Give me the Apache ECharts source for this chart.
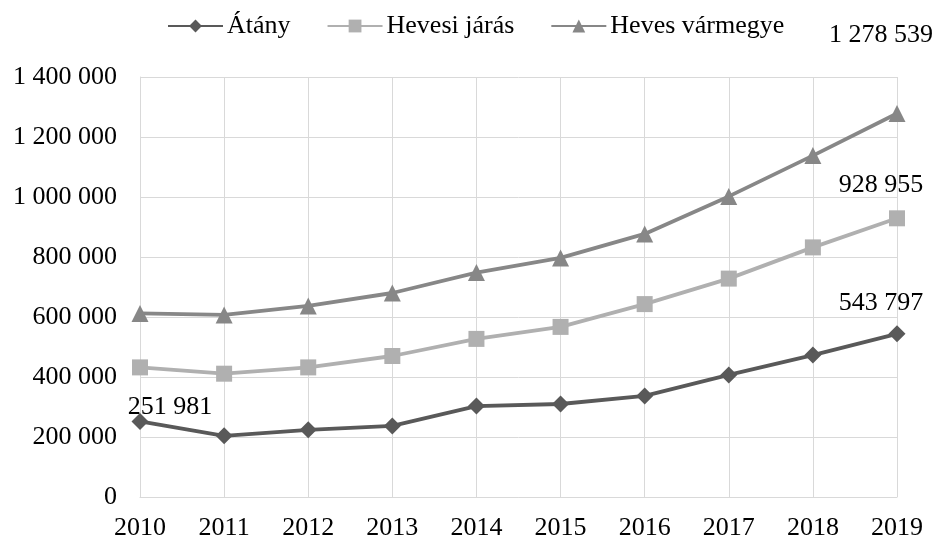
<!DOCTYPE html>
<html>
<head>
<meta charset="utf-8">
<script src="https://cdn.jsdelivr.net/npm/echarts@6/dist/echarts.min.js"></script>
<style>
  html, body { margin: 0; padding: 0; background: #fff; }
  #chart { width: 934px; height: 543px; }
</style>
</head>
<body>
<div id="chart"></div>
<script>
var evek = ['2010', '2011', '2012', '2013', '2014', '2015', '2016', '2017', '2018', '2019'];
var atany = [251981, 204000, 224000, 237000, 303000, 310000, 337000, 407000, 473000, 543797];
var hevesiJaras = [432000, 411000, 432000, 470000, 527000, 567000, 643000, 728000, 832000, 928955];
var hevesVarmegye = [612000, 607000, 637000, 680000, 748000, 797000, 877000, 1002000, 1138000, 1278539];

function szokoz(v) {
  return String(Math.round(v)).replace(/\B(?=(\d{3})+(?!\d))/g, ' ');
}

// only first/last points get a label, like in the original
function cimkek(adat, elso, utolso) {
  return adat.map(function (v, i) {
    if (i === 0 && elso) return { value: v, label: { show: true, position: 'top', offset: elso, formatter: function (p) { return szokoz(p.value); } } };
    if (i === adat.length - 1 && utolso) return { value: v, label: { show: true, position: 'top', offset: utolso, formatter: function (p) { return szokoz(p.value); } } };
    return v;
  });
}

var myChart = echarts.init(document.getElementById('chart'));
var betu = { fontFamily: 'Liberation Serif', fontSize: 26, color: '#000' };

var option = {
  animation: false,
  textStyle: betu,
  legend: {
    top: 8,
    left: 162,
    itemWidth: 55,
    itemHeight: 16,
    itemGap: 36,
    textStyle: Object.assign({ padding: [0, 0, 0, -1] }, betu),
    data: ['Átány', 'Hevesi járás', 'Heves vármegye']
  },
  grid: { left: 140, right: 37, top: 77, bottom: 46 },
  xAxis: {
    type: 'category',
    boundaryGap: false,
    data: evek,
    axisLine: { lineStyle: { color: '#d9d9d9', width: 1 } },
    axisTick: { show: false },
    axisLabel: Object.assign({ margin: 18 }, betu),
    splitLine: { show: true, lineStyle: { color: '#d9d9d9', width: 1 } }
  },
  yAxis: {
    type: 'value',
    min: 0,
    max: 1400000,
    interval: 200000,
    axisLine: { show: true, lineStyle: { color: '#d9d9d9', width: 1 } },
    axisLabel: Object.assign({ margin: 23, formatter: szokoz }, betu),
    splitLine: { lineStyle: { color: '#d9d9d9', width: 1 } }
  },
  series: [
    {
      name: 'Átány',
      type: 'line',
      data: cimkek(atany, [30, 12], [-16, -4]),
      symbol: 'diamond',
      symbolSize: 17,
      itemStyle: { color: '#595959' },
      lineStyle: { color: '#595959', width: 3.8 },
      label: betu
    },
    {
      name: 'Hevesi járás',
      type: 'line',
      data: cimkek(hevesiJaras, null, [-16, -7]),
      symbol: 'rect',
      symbolSize: 16,
      itemStyle: { color: '#b0b0b0' },
      lineStyle: { color: '#b0b0b0', width: 3.8 },
      label: betu
    },
    {
      name: 'Heves vármegye',
      type: 'line',
      data: cimkek(hevesVarmegye, null, [-16, -52]),
      symbol: 'triangle',
      symbolSize: 17,
      itemStyle: { color: '#878787' },
      lineStyle: { color: '#878787', width: 3.8 },
      label: betu
    }
  ]
};

option && myChart.setOption(option);
</script>
</body>
</html>
